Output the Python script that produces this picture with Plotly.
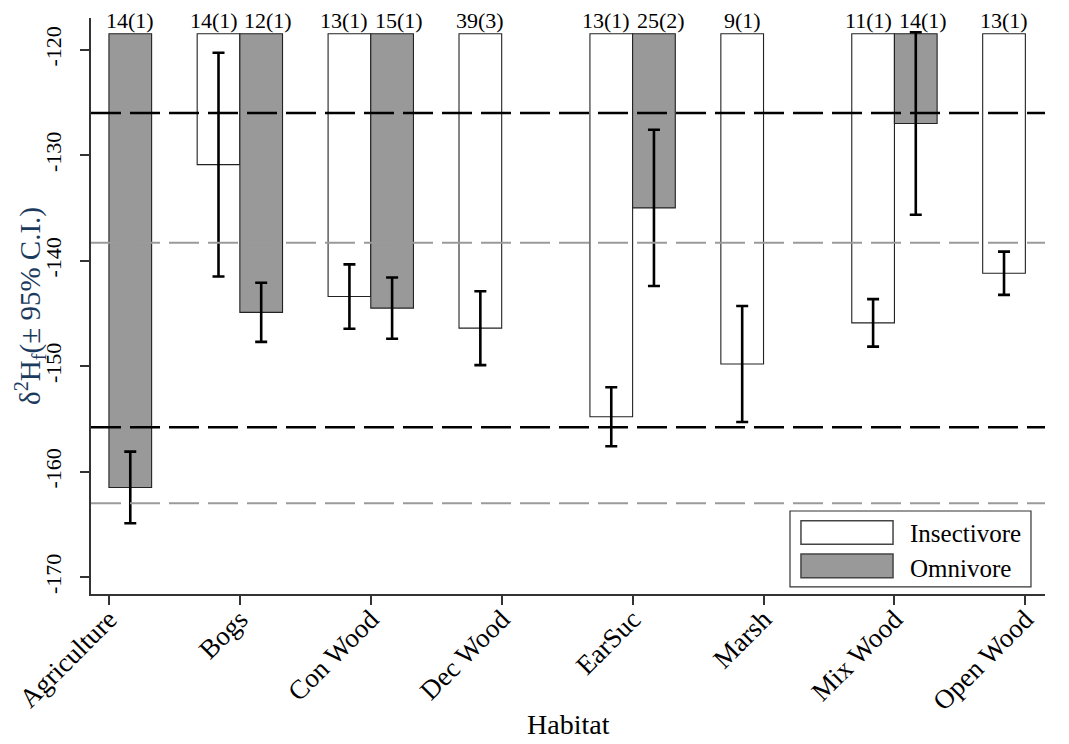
import plotly.graph_objects as go

# ---------------- data ----------------
habitats = ["Agriculture", "Bogs", "Con Wood", "Dec Wood", "EarSuc", "Marsh", "Mix Wood", "Open Wood"]

insect_mean = [None, -130.9, -143.4, -146.4, -154.8, -149.8, -145.9, -141.2]
insect_ci = [None, 10.6, 3.05, 3.5, 2.8, 5.5, 2.25, 2.05]
insect_n = [None, "14(1)", "13(1)", "39(3)", "13(1)", "9(1)", "11(1)", "13(1)"]

omni_mean = [-161.5, -144.9, -144.5, None, -135.0, None, -127.0, None]
omni_ci = [3.4, 2.8, 2.9, None, 7.4, None, 8.65, None]
omni_n = ["14(1)", "12(1)", "15(1)", None, "25(2)", None, "14(1)", None]

bar_base = -118.5
ref_black = [-126.0, -155.8]
ref_grey = [-138.3, -163.0]

y_ticks = [-170, -160, -150, -140, -130, -120]
y_tick_labels = ["-170", "-160", "-150", "-140", "-130", "-120"]
y_range = [-171.6, -117.0]
x_range = [-0.137, 7.15]

series_names = ["Insectivore", "Omnivore"]
series_fill = ["#ffffff", "#999999"]

x_title = "Habitat"
y_title = "δ<sup>2</sup>H<sub>f</sub>(± 95% C.I.)"

# ---------------- figure ----------------
FONT = "Times New Roman, Liberation Serif, serif"
bargap = 0.348
bar_w = (1 - bargap) / 2

xs = list(range(len(habitats)))


def extent(means):
    return [None if m is None else m - bar_base for m in means]


def errs(ci):
    return [0 if c is None else c for c in ci]


fig = go.Figure()
for name, means, ci, fill in [
    (series_names[0], insect_mean, insect_ci, series_fill[0]),
    (series_names[1], omni_mean, omni_ci, series_fill[1]),
]:
    fig.add_trace(go.Bar(
        x=xs, y=extent(means), base=bar_base, name=name,
        marker=dict(color=fill, line=dict(color="#222222", width=1.1)),
        error_y=dict(type="data", array=errs(ci), visible=True,
                     color="black", thickness=2.6, width=6),
        showlegend=False,
    ))

# reference lines
for v in ref_grey:
    fig.add_hline(y=v, line=dict(color="#9a9a9a", width=2, dash="30px,9px"), layer="above")
for v in ref_black:
    fig.add_hline(y=v, line=dict(color="black", width=2.6, dash="30px,9px"), layer="above")

# sample size labels above bars (pushed apart slightly when two share a habitat)
for i in xs:
    paired = insect_n[i] is not None and omni_n[i] is not None
    for lab, off, push in [(insect_n[i], -bar_w / 2, -5), (omni_n[i], bar_w / 2, 7)]:
        if lab is None:
            continue
        fig.add_annotation(x=i + off, y=bar_base, text=lab, showarrow=False,
                           xref="x", yref="y", yanchor="bottom", yshift=-1,
                           xshift=push if paired else 0,
                           font=dict(family=FONT, size=22, color="black"))

# manual legend (wide swatches like the original)
fig.add_shape(type="rect", xref="paper", yref="paper", x0=0.7327, x1=0.9853, y0=0.0122, y1=0.1441,
              line=dict(color="#333333", width=1.2), fillcolor="white", layer="above")
sw = [(0.1273, 0.0863, 0.1059), (0.0694, 0.0283, 0.0451)]
for (ytop, ybot, ymid), name, fill in zip(sw, series_names, series_fill):
    fig.add_shape(type="rect", xref="paper", yref="paper", x0=0.7442, x1=0.8407, y0=ybot, y1=ytop,
                  line=dict(color="#444444", width=1.5), fillcolor=fill, layer="above")
    fig.add_annotation(x=0.8564, y=ymid, xref="paper", yref="paper", text=name, showarrow=False,
                       xanchor="left", yanchor="middle",
                       font=dict(family=FONT, size=25, color="black"))

# axis titles
fig.add_annotation(x=0.5, y=-0.2274, xref="paper", yref="paper", text=x_title, showarrow=False,
                   xanchor="center", yanchor="middle",
                   font=dict(family=FONT, size=28, color="black"))
fig.add_annotation(x=-0.0640, y=0.5, xref="paper", yref="paper", text=y_title, showarrow=False,
                   textangle=-90, xanchor="center", yanchor="middle",
                   font=dict(family=FONT, size=29, color="#1c3a5e"))

fig.update_layout(
    width=1069, height=744,
    margin=dict(l=91, r=24, t=18, b=150, autoexpand=False),
    paper_bgcolor="white", plot_bgcolor="white",
    barmode="group", bargap=bargap, bargroupgap=0,
    font=dict(family=FONT, size=21, color="black"),
    showlegend=False,
)
fig.update_xaxes(
    range=x_range, tickvals=xs, ticktext=habitats, tickangle=-45,
    showline=True, linecolor="#333333", linewidth=1.5, mirror=False,
    ticks="outside", ticklen=9, tickcolor="#333333", tickwidth=1.5,
    ticklabelstandoff=-12,
    showgrid=False, zeroline=False,
    tickfont=dict(family=FONT, size=27, color="black"),
)
fig.update_yaxes(
    range=y_range, tickvals=y_ticks, ticktext=y_tick_labels, tickangle=-90,
    showline=True, linecolor="#333333", linewidth=1.5, mirror=False,
    ticks="outside", ticklen=9, tickcolor="#333333", tickwidth=1.5,
    ticklabelstandoff=10,
    showgrid=False, zeroline=False,
    tickfont=dict(family=FONT, size=22, color="black"),
)

fig.write_html("out.html", config={"displayModeBar": False},
               post_script="document.body.style.margin='0px';")
